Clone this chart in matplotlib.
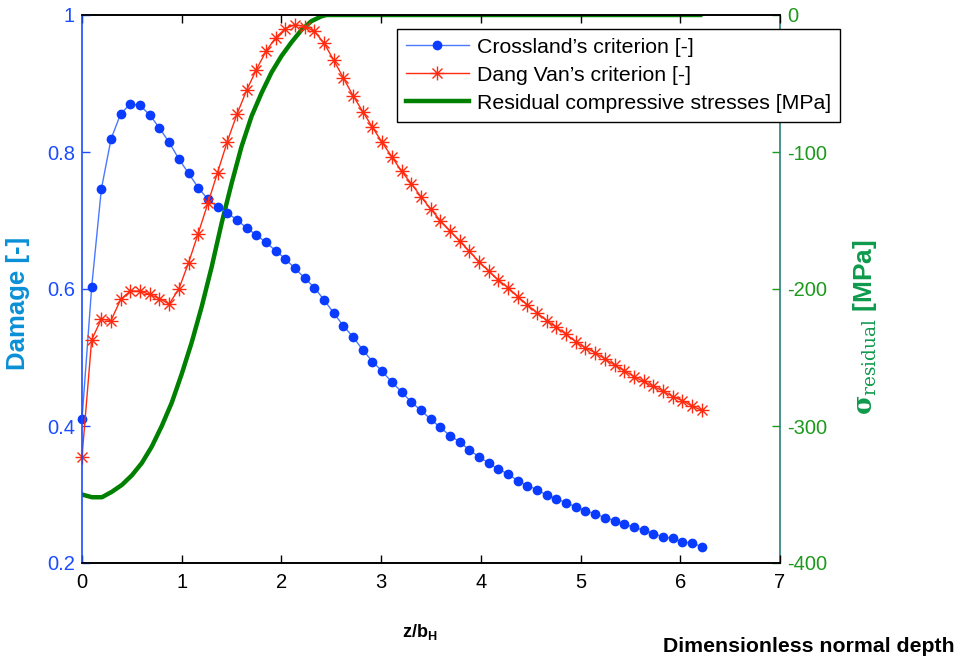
import matplotlib
matplotlib.use("Agg")
import matplotlib.pyplot as plt
import numpy as np
from matplotlib.path import Path

plt.rcParams["font.family"] = ["Liberation Sans", "DejaVu Sans"]
plt.rcParams["axes.unicode_minus"] = False
plt.rcParams["mathtext.fontset"] = "custom"
plt.rcParams["mathtext.rm"] = "DejaVu Serif"
plt.rcParams["mathtext.bf"] = "DejaVu Serif:bold"
plt.rcParams["mathtext.sf"] = "Liberation Sans:bold"

# depth grid z/b_H (65 evenly spaced samples)
z_step = 0.0971
n_pts = 65

crossland = [
    0.410, 0.603, 0.746, 0.819, 0.856, 0.870, 0.868, 0.854, 0.835, 0.814,
    0.790, 0.769, 0.748, 0.731, 0.720, 0.711, 0.701, 0.689, 0.679, 0.668,
    0.656, 0.644, 0.630, 0.616, 0.602, 0.584, 0.565, 0.546, 0.530, 0.511,
    0.494, 0.480, 0.464, 0.450, 0.435, 0.423, 0.410, 0.398, 0.386, 0.377,
    0.365, 0.355, 0.346, 0.337, 0.330, 0.320, 0.313, 0.307, 0.299, 0.294,
    0.288, 0.282, 0.276, 0.272, 0.266, 0.262, 0.257, 0.252, 0.248, 0.243,
    0.238, 0.236, 0.231, 0.229, 0.224,
]

dang_van = [
    0.355, 0.526, 0.556, 0.554, 0.585, 0.597, 0.597, 0.592, 0.586, 0.578,
    0.600, 0.638, 0.681, 0.725, 0.770, 0.815, 0.855, 0.890, 0.920, 0.947,
    0.967, 0.980, 0.986, 0.983, 0.976, 0.959, 0.934, 0.908, 0.882, 0.859,
    0.836, 0.814, 0.793, 0.772, 0.754, 0.735, 0.717, 0.700, 0.685, 0.670,
    0.655, 0.640, 0.626, 0.613, 0.602, 0.589, 0.577, 0.565, 0.554, 0.544,
    0.534, 0.523, 0.514, 0.507, 0.498, 0.489, 0.481, 0.472, 0.465, 0.458,
    0.451, 0.443, 0.437, 0.429, 0.423,
]

# residual stress profile (MPa)
resid_z = [0.0, 0.1, 0.2, 0.3, 0.4, 0.5, 0.6, 0.7, 0.8, 0.9, 1.0, 1.1, 1.2,
           1.3, 1.4, 1.5, 1.6, 1.7, 1.8, 1.9, 2.0, 2.1, 2.2, 2.3, 2.4, 2.45,
           6.2]
resid = [-350, -352, -352, -348, -343, -336, -327, -315, -300, -283, -262,
         -239, -213, -184, -152, -123, -96, -74, -57, -42, -30, -20, -11,
         -4.5, -1, 0, 0]

x_ticks = [0, 1, 2, 3, 4, 5, 6, 7]
left_ticks = [0.2, 0.4, 0.6, 0.8, 1.0]
left_labels = ["0.2", "0.4", "0.6", "0.8", "1"]
right_ticks = [-400, -300, -200, -100, 0]

z = np.arange(n_pts) * z_step

# asterisk marker as in MATLAB
d = 0.72
star = Path(
    [(-1, 0), (1, 0), (0, -1), (0, 1), (-d, -d), (d, d), (-d, d), (d, -d)],
    [Path.MOVETO, Path.LINETO] * 4,
)

blue = "#0a3cff"
ax_blue = "#1a4dff"
red = "#ff2a10"
green = "#008000"
tick_green = "#1c9a1c"

fig = plt.figure(figsize=(9.59, 6.6), dpi=100)
ax = fig.add_axes([82 / 959, 97 / 660, 698 / 959, 548 / 660])
ax2 = ax.twinx()

l1, = ax.plot(z, crossland, color="#4a78ff", lw=1.0, marker="o", ms=6,
              mfc=blue, mec=blue, clip_on=False,
              label="Crossland\u2019s criterion [-]")
l2, = ax.plot(z, dang_van, color=red, lw=1.0, marker=star, ms=10, mew=1.0,
              mec=red, clip_on=False, label="Dang Van\u2019s criterion [-]")
l3, = ax2.plot(resid_z, resid, color=green, lw=3.2,
               label="Residual compressive stresses [MPa]")

ax.set_xlim(0, 7)
ax.set_ylim(0.2, 1.0)
ax2.set_ylim(-400, 0)
ax.set_xticks(x_ticks)
ax.set_yticks(left_ticks)
ax.set_yticklabels(left_labels)
ax2.set_yticks(right_ticks)

ax.tick_params(axis="x", direction="in", top=True, length=6, width=1,
               labelsize=14.5, pad=7, colors="black")
ax.tick_params(axis="y", direction="in", length=6, width=1, labelsize=14.5,
               colors=ax_blue, pad=5)
ax2.tick_params(axis="y", direction="in", length=6, width=1, labelsize=14.5,
                colors=tick_green, pad=5)
ax2.tick_params(axis="x", top=False, bottom=False)

for a in (ax, ax2):
    a.spines["top"].set_color("black")
    a.spines["bottom"].set_color("black")
    a.spines["left"].set_color(ax_blue)
    a.spines["right"].set_color("#2a8080")
    for s in a.spines.values():
        s.set_linewidth(1.2)
ax2.spines["left"].set_visible(False)
ax.spines["right"].set_visible(False)

ax.set_ylabel("Damage [-]", color="#0a8fd6", fontsize=18.5, fontweight="bold")
ax.yaxis.set_label_coords(-0.074, 0.473)
ax2.set_ylabel(r"$\mathbf{\sigma}_{\mathrm{residual}}$ [MPa]", color="#0e9a4c",
               fontsize=19, fontweight="bold")
ax2.yaxis.set_label_coords(1.102, 0.43)

fig.text(420 / 959, 1 - 632 / 660, r"z/b$_\mathsf{H}$", fontsize=13,
         fontweight="bold", ha="center", va="center")
fig.text(955 / 959, 1 - 646 / 660, "Dimensionless normal depth",
         fontsize=15.3, fontweight="bold", ha="right", va="center")

leg = ax.legend(handles=[l1, l2, l3], loc="upper left",
                bbox_to_anchor=(397 / 959, 1 - 29 / 660),
                bbox_transform=fig.transFigure,
                fontsize=15.3, frameon=True, fancybox=False, framealpha=1,
                edgecolor="black", handlelength=2.95, handletextpad=0.4,
                borderpad=0.42, labelspacing=0.42, borderaxespad=0)
leg.get_frame().set_linewidth(1.0)
ax.set_zorder(ax2.get_zorder() + 1)
ax.patch.set_visible(False)

fig.savefig("out.png", dpi=100)
